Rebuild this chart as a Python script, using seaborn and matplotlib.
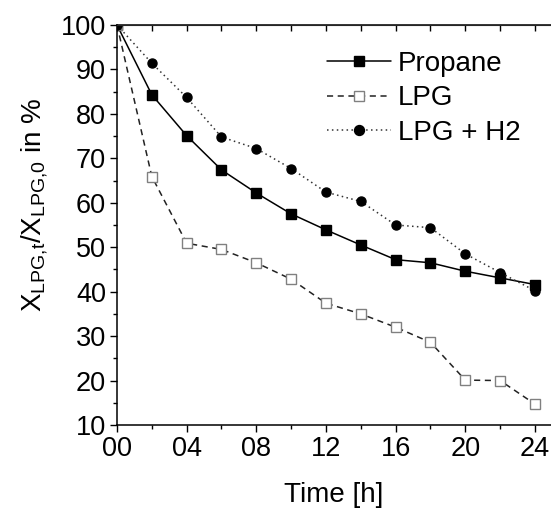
import pandas as pd
import matplotlib.pyplot as plt
import seaborn as sns
from matplotlib.ticker import MultipleLocator, FormatStrFormatter

# values
time_h = [0, 2, 4, 6, 8, 10, 12, 14, 16, 18, 20, 22, 24]
propane = [100, 84.3, 75.1, 67.4, 62.2, 57.5, 53.9, 50.5, 47.2, 46.5, 44.6, 43.1, 41.6]
lpg = [100, 65.9, 50.9, 49.5, 46.5, 42.8, 37.4, 35.0, 32.0, 28.6, 20.1, 20.0, 14.7]
lpg_h2 = [100, 91.4, 83.7, 74.8, 72.2, 67.7, 62.4, 60.3, 55.0, 54.4, 48.5, 44.3, 40.2]
series_names = ['Propane', 'LPG', 'LPG + H2']

df = pd.DataFrame({'Time': time_h * 3,
                   'Value': propane + lpg + lpg_h2,
                   'Series': [n for n in series_names for _ in time_h]})

sns.set_style('ticks')
plt.rcParams['font.family'] = ['Liberation Sans', 'DejaVu Sans']
plt.rcParams['mathtext.fontset'] = 'custom'
plt.rcParams['mathtext.rm'] = 'Liberation Sans'
plt.rcParams['mathtext.it'] = 'Liberation Sans'
plt.rcParams['text.color'] = 'black'
plt.rcParams['axes.labelcolor'] = 'black'
plt.rcParams['xtick.color'] = 'black'
plt.rcParams['ytick.color'] = 'black'

fig = plt.figure(figsize=(5.51, 5.08), dpi=100)
ax = fig.add_axes([117 / 551, 83 / 508, 1 - 117 / 551, 400 / 508])

styles = {
    'Propane': dict(linestyle='-', marker='s', color='black', markerfacecolor='black',
                    markeredgecolor='black'),
    'LPG': dict(linestyle=(0, (4, 3)), marker='s', color='#222222', markerfacecolor='white',
                markeredgecolor='#808080'),
    'LPG + H2': dict(linestyle=(0, (1, 2.2)), marker='o', color='#333333',
                     markerfacecolor='black', markeredgecolor='black'),
}
for name in series_names:
    sub = df[df['Series'] == name]
    sns.lineplot(data=sub, x='Time', y='Value', ax=ax, label=name, linewidth=1.1,
                 markersize=6.5, markeredgewidth=1.0, **styles[name])

ax.set_xlim(0, 24.92)
ax.set_ylim(10, 100)
ax.xaxis.set_major_locator(MultipleLocator(4))
ax.xaxis.set_minor_locator(MultipleLocator(2))
ax.xaxis.set_major_formatter(FormatStrFormatter('%02d'))
ax.yaxis.set_major_locator(MultipleLocator(10))
ax.yaxis.set_minor_locator(MultipleLocator(5))
ax.tick_params(which='major', direction='out', length=5, width=1, labelsize=19.5,
               color='black', labelcolor='black', pad=3)
ax.tick_params(which='minor', direction='out', length=3, width=1, color='black')

top = ax.secondary_xaxis('top')
top.xaxis.set_major_locator(MultipleLocator(4))
top.xaxis.set_minor_locator(MultipleLocator(2))
top.tick_params(which='both', direction='in', length=4, width=1, labeltop=False)

ax.spines['right'].set_visible(False)
for s in ['left', 'bottom']:
    ax.spines[s].set_linewidth(1.1)
    ax.spines[s].set_color('black')
top.spines['top'].set_linewidth(1.1)
top.spines['top'].set_color('black')

ax.set_xlabel('Time [h]', fontsize=20, labelpad=14)
ax.set_ylabel(r'X$_{\mathrm{LPG{,}t}}$/X$_{\mathrm{LPG{,}0}}$ in %', fontsize=20)
ax.yaxis.set_label_coords(-0.155, 0.55)

leg = ax.legend(loc='upper left', bbox_to_anchor=(0.484, 0.935), frameon=False, fontsize=20,
                handlelength=2.3, handletextpad=0.25, labelspacing=0.3, borderaxespad=0,
                borderpad=0, markerscale=1.1)
for t in leg.get_texts():
    t.set_color('black')

plt.savefig('out.png', dpi=100)
